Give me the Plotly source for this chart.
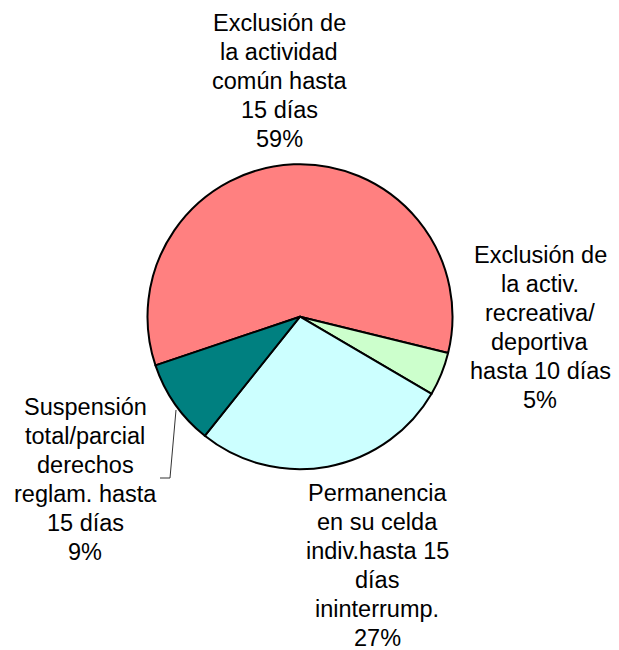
import plotly.graph_objects as go

# The page body adds an 8 px offset, so the figure is drawn 8 px smaller
OFF = 8
W, H = 619 - OFF, 650 - OFF

label_lines = [
    ["Exclusión de", "la actividad", "común hasta", "15 días"],
    ["Exclusión de", "la activ.", "recreativa/", "deportiva", "hasta 10 días"],
    ["Permanencia", "en su celda", "indiv.hasta 15", "días", "ininterrump."],
    ["Suspensión", "total/parcial", "derechos", "reglam. hasta", "15 días"],
]
values = [59.0, 4.6, 27.3, 9.1]
colors = ["#FF8080", "#CCFFCC", "#CCFFFF", "#008080"]

# label placement in reference pixels: centre x, top of first line (layout only)
label_pos = [(279, 15), (540, 247), (377, 485), (85, 399)]
LINE_H = 29
FONT_SIZE = 23.5

cx, cy, r = 300 - OFF, 316.7 - OFF, 152.5

fig = go.Figure(go.Pie(
    labels=[" ".join(l) for l in label_lines],
    values=values,
    sort=False,
    direction="clockwise",
    rotation=251.4,
    marker=dict(colors=colors, line=dict(color="black", width=2)),
    textinfo="none",
    hoverinfo="label+percent",
    showlegend=False,
    domain=dict(x=[(cx - r) / W, (cx + r) / W],
                y=[(H - cy - r) / H, (H - cy + r) / H]),
))

total = sum(values)
for lines, v, (px, ptop) in zip(label_lines, values, label_pos):
    pct = round(v / total * 100)
    for i, line in enumerate(lines + [f"{pct}%"]):
        yc = ptop + 8 + LINE_H * i - OFF
        fig.add_annotation(
            x=(px - OFF) / W, y=1 - yc / H, xref="paper", yref="paper",
            text=line, showarrow=False,
            xanchor="center", yanchor="middle", align="center",
            font=dict(family="Liberation Sans, Arial, sans-serif",
                      size=FONT_SIZE, color="black"),
        )

# leader line for the small teal slice label
pts = [(176, 410), (170, 478), (160, 478)]
path = "M " + " L ".join(f"{(x - OFF) / W},{1 - (y - OFF) / H}" for x, y in pts)
fig.add_shape(type="path", path=path, xref="paper", yref="paper",
              line=dict(color="#333333", width=1))

fig.update_layout(
    width=W, height=H,
    margin=dict(l=0, r=0, t=0, b=0),
    paper_bgcolor="white", plot_bgcolor="white",
)

fig.write_html("out.html")
